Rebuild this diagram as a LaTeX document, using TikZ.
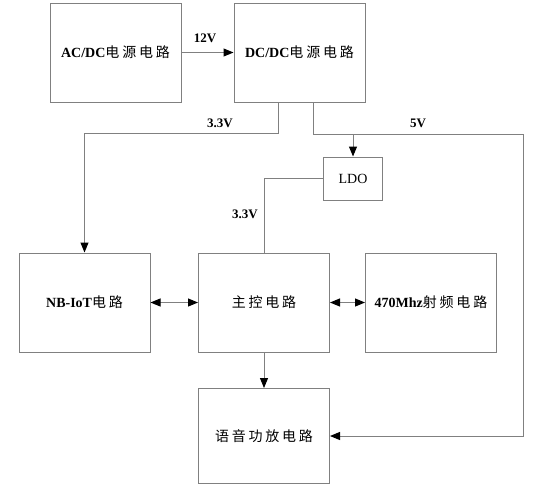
\documentclass[tikz,border=0pt]{standalone}
\usepackage{fontspec}
\setmainfont{Liberation Serif}
\newfontfamily\cjk[LetterSpace=20]{Noto Sans CJK SC}
\usetikzlibrary{arrows.meta,positioning}
\definecolor{linegray}{RGB}{128,128,128}
\newcommand{\zh}[1]{{\mdseries\cjk #1}}

\begin{document}
\begin{tikzpicture}[x=1pt,y=-1pt,
    block/.style={draw=linegray, line width=1pt, minimum width=131pt, minimum height=99pt,
                  inner sep=0pt, font=\fontsize{14}{16}\selectfont\bfseries},
    wire/.style={draw=linegray, line width=1pt},
    arr/.style={wire, -{Triangle[length=10pt,width=8pt,color=black]}},
    biarr/.style={wire, {Triangle[length=10pt,width=8pt,color=black]}-{Triangle[length=10pt,width=8pt,color=black]}},
    volt/.style={font=\fontsize{13}{15}\selectfont\bfseries, inner sep=1pt}]
    \fill[white] (0,0) rectangle (538,485);
    \useasboundingbox (0,0) rectangle (538,485);

    % Power supply
    \node[block] (acdc) at (115.5,52.5) {AC/DC\zh{电源电路}};
    \node[block] (dcdc) at (299.5,52.5) {DC/DC\zh{电源电路}};
    \node[block, minimum width=59pt, minimum height=43pt] (ldo) at (353,178.5) {\mdseries LDO};

    % Function blocks
    \node[block] (nbiot) at (84.5,302.5) {NB-IoT\zh{电路}};
    \node[block] (mcu) at (264,302.5) {\zh{主控电路}};
    \node[block] (rf) at (431,302.5) {470Mhz\zh{射频电路}};
    \node[block, minimum height=95pt] (audio) at (264,436) {\zh{语音功放电路}};

    % Junctions
    \coordinate (j33) at (278,133);
    \coordinate (j5) at (313,134);
    \coordinate (r5) at (523,134);

    % Supply lines
    \draw[arr] (acdc.east) -- (dcdc.west);
    \node[volt] (v12) at (205,38) {12V};
    \draw[arr] (dcdc.south -| j33) -- (j33) -| (nbiot.north);
    \node[volt] (v33a) at (220,123) {3.3V};
    \draw[arr] (dcdc.south -| j5) -- (j5) -- (ldo.north |- j5) -- (ldo.north);
    \draw[arr] (ldo.north |- j5) -- (r5) |- (audio.east);
    \node[volt] (v5) at (418,123) {5V};
    \draw[wire] (ldo.west) -| (mcu.north);
    \node[volt] (v33b) at (245,214.5) {3.3V};

    % Signal lines
    \draw[biarr] (nbiot.east) -- (mcu.west);
    \draw[biarr] (mcu.east) -- (rf.west);
    \draw[arr] (mcu.south) -- (audio.north);
\end{tikzpicture}
\end{document}
